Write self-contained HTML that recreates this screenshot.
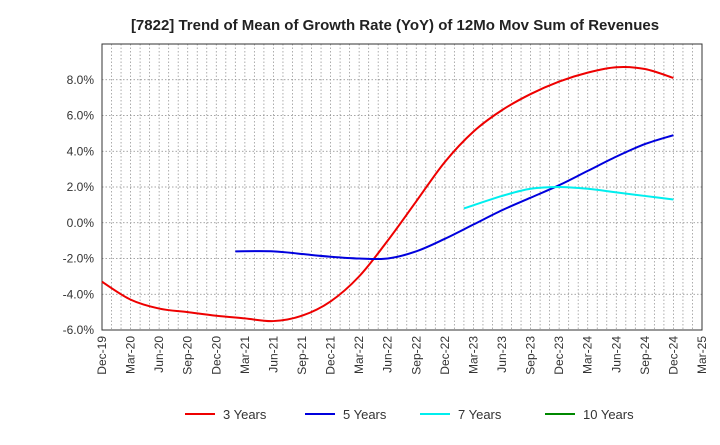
<!DOCTYPE html>
<html><head><meta charset="utf-8"><style>
body{margin:0;background:#fff;font-family:"Liberation Sans",sans-serif}
</style></head><body>
<svg id="c" width="720" height="440" xmlns="http://www.w3.org/2000/svg"></svg>
<script>
const categories=["Dec-19","Mar-20","Jun-20","Sep-20","Dec-20","Mar-21","Jun-21","Sep-21","Dec-21","Mar-22","Jun-22","Sep-22","Dec-22","Mar-23","Jun-23","Sep-23","Dec-23","Mar-24","Jun-24","Sep-24","Dec-24","Mar-25"];
const yTicks=[-6,-4,-2,0,2,4,6,8];
const s3=[-3.3,-4.3,-4.8,-5.0,-5.2,-5.35,-5.5,-5.2,-4.4,-3.0,-1.0,1.2,3.4,5.1,6.3,7.2,7.9,8.4,8.7,8.6,8.1,null];
const s5=[null,null,null,null,null,-1.6,-1.6,-1.75,-1.9,-2.0,-2.0,-1.6,-0.9,-0.1,0.7,1.4,2.1,2.9,3.7,4.4,4.9,null];
const s7=[null,null,null,null,null,null,null,null,null,null,null,null,null,0.8,1.5,1.9,2.0,1.9,1.7,1.5,1.3,null];
const s10=[];
const firstShift=[0,-1/3,-1/3,0];
const L=102,R=702,T=44,B=330,ymin=-6,ymax=10;
const X=i=>L+i*(R-L)/(categories.length-1);
const Y=v=>B-(v-ymin)/(ymax-ymin)*(B-T);
const svg=document.getElementById('c');const NS="http://www.w3.org/2000/svg";
function el(t,a,p){const e=document.createElementNS(NS,t);for(const k in a)e.setAttribute(k,a[k]);(p||svg).appendChild(e);return e;}
const title=el('text',{x:395,y:30,'text-anchor':'middle','font-size':15,'font-weight':'bold',fill:'#222'});


title.textContent="[7822]  Trend of Mean of Growth Rate (YoY) of 12Mo Mov Sum of Revenues";
const grid=el('g',{});


for(let m=1;m<(categories.length-1)*3;m++){const x=L+m*(R-L)/((categories.length-1)*3);el('line',{x1:x,x2:x,y1:T,y2:B,stroke:'#999','stroke-width':0.8,'stroke-dasharray':'1.5,2'},grid);}
for(let v=ymin+2;v<ymax;v+=2){el('line',{x1:L,x2:R,y1:Y(v),y2:Y(v),stroke:'#888','stroke-width':0.8,'stroke-dasharray':'1.5,2'},grid);}
el('rect',{x:L,y:T,width:R-L,height:B-T,fill:'none',stroke:'#333','stroke-width':1});
yTicks.forEach(v=>{const t=el('text',{x:L-8,y:Y(v)+4,'text-anchor':'end','font-size':12,fill:'#333'});


t.textContent=v.toFixed(1)+'%';});
categories.forEach((c,i)=>{const x=X(i);const t=el('text',{transform:`translate(${x+4},${B+6}) rotate(-90)`,'text-anchor':'end','font-size':12,fill:'#333'});


t.textContent=c;});
function path(arr,shift){const p=[];arr.forEach((v,i)=>{if(v!=null)p.push([X(p.length?i:i+shift),Y(v)]);});if(!p.length)return '';let d=`M${p[0][0]},${p[0][1]}`;
for(let i=0;i<p.length-1;i++){const p0=p[i-1]||p[i],p1=p[i],p2=p[i+1],p3=p[i+2]||p2;
d+=` C${p1[0]+(p2[0]-p0[0])/6},${p1[1]+(p2[1]-p0[1])/6} ${p2[0]-(p3[0]-p1[0])/6},${p2[1]-(p3[1]-p1[1])/6} ${p2[0]},${p2[1]}`;}return d;}
const series=[[s3,'#e00','3 Years','line-3-years'],[s5,'#00d','5 Years','line-5-years'],[s7,'#0ee','7 Years','line-7-years'],[s10,'#080','10 Years','line-10-years']];
series.forEach((s,k)=>{const d=path(s[0],firstShift[k]);if(d){const p=el('path',{d:d,fill:'none',stroke:s[1],'stroke-width':2});

}});
const lx=[185,305,420,545];
series.forEach((s,i)=>{const g=el('g',{});


el('line',{x1:lx[i],x2:lx[i]+30,y1:414,y2:414,stroke:s[1],'stroke-width':2},g);
const t=el('text',{x:lx[i]+38,y:419,'font-size':13,fill:'#333'},g);t.textContent=s[2];});
</script>
</body></html>
